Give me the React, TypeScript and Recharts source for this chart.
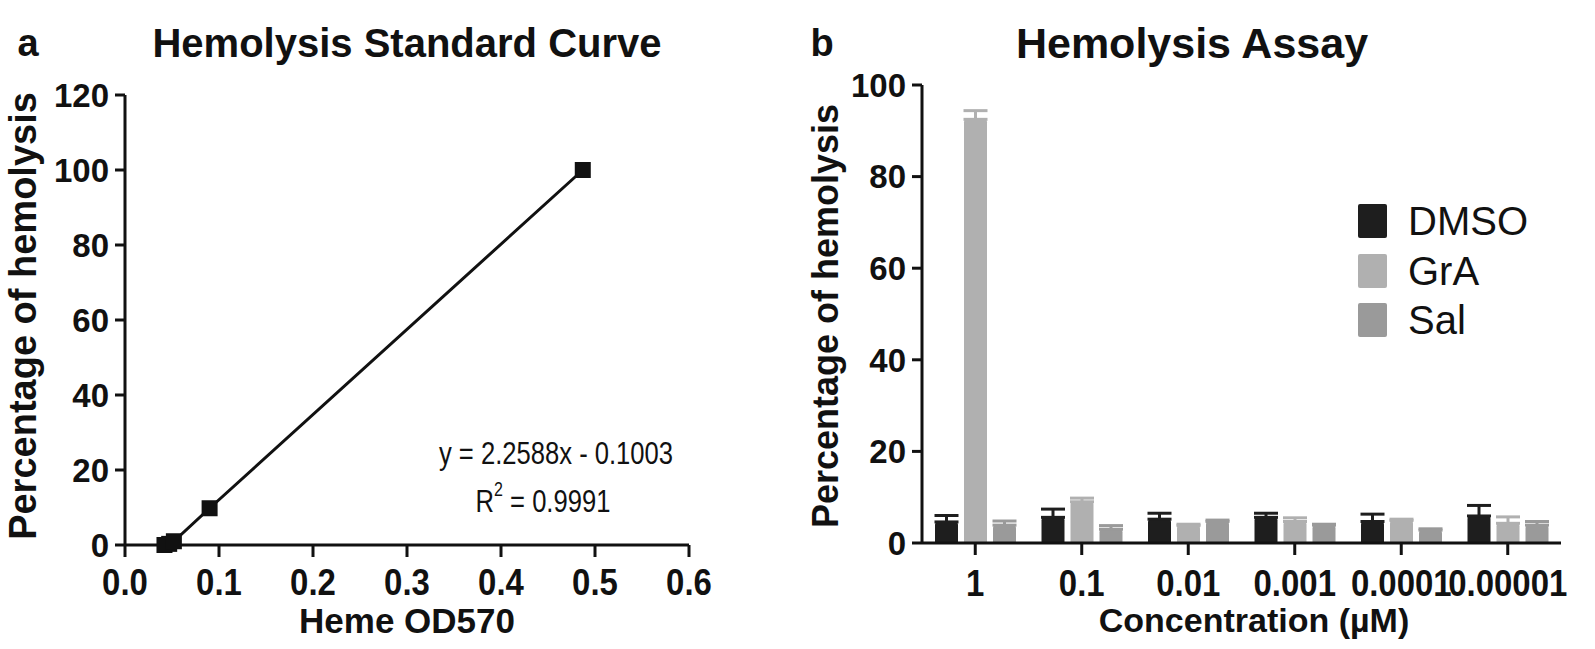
import React from 'react';
import { LineChart, Line, XAxis, YAxis, BarChart, Bar, ErrorBar } from 'recharts';

// Panel a: standard curve
const stdOD = [0.042, 0.047, 0.052, 0.09, 0.487];
const stdPct = [0, 0.3, 1.0, 9.8, 100];
const stdXTicks = [0, 0.1, 0.2, 0.3, 0.4, 0.5, 0.6];
const stdYTicks = [0, 20, 40, 60, 80, 100, 120];

// Panel b: hemolysis assay
const categories = ['1', '0.1', '0.01', '0.001', '0.0001', '0.00001'];
const dmso = [4.6, 5.6, 5.2, 5.6, 4.7, 5.9];
const dmsoErr = [1.4, 1.8, 1.3, 0.9, 1.6, 2.3];
const gra = [92.5, 9.0, 3.8, 4.7, 4.9, 4.3];
const graErr = [1.9, 0.8, 0.3, 0.8, 0.3, 1.4];
const sal = [3.9, 3.0, 4.7, 3.9, 2.8, 3.9];
const salErr = [0.9, 0.8, 0.3, 0.2, 0.3, 0.8];
const assayYTicks = [0, 20, 40, 60, 80, 100];
const seriesNames = ['DMSO', 'GrA', 'Sal'];
const seriesColors = ['#1e1e1e', '#b0b0b0', '#9a9a9a'];

const FONT = '"Liberation Sans", Arial, Helvetica, sans-serif';
const AX = '#111';

const stdData = stdOD.map((x, i) => ({ x, y: stdPct[i] }));
const assayData = categories.map((c, i) => ({
  c,
  dmso: dmso[i],
  dmsoE: [0, dmsoErr[i]],
  gra: gra[i],
  graE: [0, graErr[i]],
  sal: sal[i],
  salE: [0, salErr[i]],
}));

const yTickStyle = { fontFamily: FONT, fontSize: 33, fontWeight: 700, fill: '#111' };

const XTick = (props: any) => {
  const { x, y, payload, fmt } = props;
  const label = fmt ? fmt(payload.value) : String(payload.value);
  return (
    <g transform={`translate(${x},${y})`}>
      <text
        x={0}
        y={0}
        dy="0.71em"
        textAnchor="middle"
        transform="scale(0.89,1)"
        fontFamily={FONT}
        fontSize={37}
        fontWeight={700}
        fill="#111"
      >
        {label}
      </text>
    </g>
  );
};

const SquareDot = (props: any) => {
  const { cx, cy } = props;
  if (cx == null || cy == null) return null;
  return <rect x={cx - 8} y={cy - 8} width={16} height={16} fill="#111" />;
};

const txt = (s: any, x: number, y: number, size: number, bold = true, extra: any = {}) => (
  <div
    style={{
      position: 'absolute',
      left: x,
      top: y,
      transform:
        'translate(-50%, -50%)' +
        (extra.rotate ? ' rotate(-90deg)' : '') +
        (extra.sx ? ` scaleX(${extra.sx})` : ''),
      fontFamily: FONT,
      fontSize: size,
      fontWeight: bold ? 700 : 400,
      color: '#111',
      whiteSpace: 'nowrap',
      lineHeight: 1,
    }}
  >
    {s}
  </div>
);

export default function App() {
  return (
    <div style={{ position: 'absolute', left: 0, top: 0, width: 1595, height: 649, background: '#fff', overflow: 'hidden' }}>
      <div style={{ position: 'absolute', left: 0, top: 0 }}>
        <LineChart width={720} height={649} data={stdData} margin={{ top: 95, right: 31, bottom: 54, left: 45 }}>
          <XAxis
            dataKey="x"
            type="number"
            domain={[0, 0.6]}
            ticks={stdXTicks}
            tick={<XTick fmt={(v: number) => v.toFixed(1)} />}
            tickSize={12}
            tickMargin={12}
            height={50}
            axisLine={{ stroke: AX, strokeWidth: 3 }}
            tickLine={{ stroke: AX, strokeWidth: 3 }}
            interval={0}
          />
          <YAxis
            type="number"
            domain={[0, 120]}
            ticks={stdYTicks}
            tick={yTickStyle}
            tickSize={10}
            tickMargin={6}
            width={80}
            axisLine={{ stroke: AX, strokeWidth: 3 }}
            tickLine={{ stroke: AX, strokeWidth: 3 }}
            interval={0}
          />
          <Line
            dataKey="y"
            type="linear"
            stroke="#111"
            strokeWidth={3}
            dot={<SquareDot />}
            activeDot={false}
            isAnimationActive={false}
          />
        </LineChart>
      </div>
      <div style={{ position: 'absolute', left: 720, top: 0 }}>
        <BarChart
          width={875}
          height={649}
          data={assayData}
          margin={{ top: 85, right: 34, bottom: 56, left: 122 }}
          barSize={23}
          barGap={6}
        >
          <XAxis
            dataKey="c"
            tick={<XTick />}
            tickSize={12}
            tickMargin={15}
            height={50}
            axisLine={{ stroke: AX, strokeWidth: 3 }}
            tickLine={{ stroke: AX, strokeWidth: 3 }}
            interval={0}
          />
          <YAxis
            type="number"
            domain={[0, 100]}
            ticks={assayYTicks}
            tick={yTickStyle}
            tickSize={10}
            tickMargin={6}
            width={80}
            axisLine={{ stroke: AX, strokeWidth: 3 }}
            tickLine={{ stroke: AX, strokeWidth: 3 }}
            interval={0}
          />
          <Bar dataKey="dmso" name={seriesNames[0]} fill={seriesColors[0]} radius={[3, 3, 0, 0]} isAnimationActive={false}>
            <ErrorBar dataKey="dmsoE" direction="y" width={12} strokeWidth={3} stroke={seriesColors[0]} />
          </Bar>
          <Bar dataKey="gra" name={seriesNames[1]} fill={seriesColors[1]} radius={[3, 3, 0, 0]} isAnimationActive={false}>
            <ErrorBar dataKey="graE" direction="y" width={12} strokeWidth={3} stroke={seriesColors[1]} />
          </Bar>
          <Bar dataKey="sal" name={seriesNames[2]} fill={seriesColors[2]} radius={[3, 3, 0, 0]} isAnimationActive={false}>
            <ErrorBar dataKey="salE" direction="y" width={12} strokeWidth={3} stroke={seriesColors[2]} />
          </Bar>
        </BarChart>
      </div>

      {txt('a', 28, 43, 38)}
      {txt('Hemolysis Standard Curve', 407, 43, 40)}
      {txt('b', 822, 43, 38)}
      {txt('Hemolysis Assay', 1192, 43, 43)}
      {txt('Percentage of hemolysis', 23, 316, 38, true, { rotate: true })}
      {txt('Percentage of hemolysis', 826, 316, 36, true, { rotate: true })}
      {txt('Heme OD570', 407, 620, 35)}
      {txt('Concentration (µM)', 1254, 620, 34)}
      {txt('y = 2.2588x - 0.1003', 556, 453, 32, false, { sx: 0.8 })}
      {txt(
        <span>
          R<sup style={{ fontSize: 20, verticalAlign: 'top', position: 'relative', top: -6 }}>2</sup> = 0.9991
        </span>,
        543,
        501,
        32,
        false,
        { sx: 0.8 }
      )}

      {seriesNames.map((n, i) => (
        <React.Fragment key={n}>
          <div
            style={{
              position: 'absolute',
              left: 1358,
              top: 204 + i * 49.5,
              width: 29,
              height: 34,
              background: seriesColors[i],
              borderRadius: 2,
            }}
          />
          <div
            style={{
              position: 'absolute',
              left: 1408,
              top: 221 + i * 49.5,
              transform: 'translateY(-50%)',
              fontFamily: FONT,
              fontSize: 40,
              color: '#111',
              lineHeight: 1,
              whiteSpace: 'nowrap',
            }}
          >
            {n}
          </div>
        </React.Fragment>
      ))}
    </div>
  );
}
